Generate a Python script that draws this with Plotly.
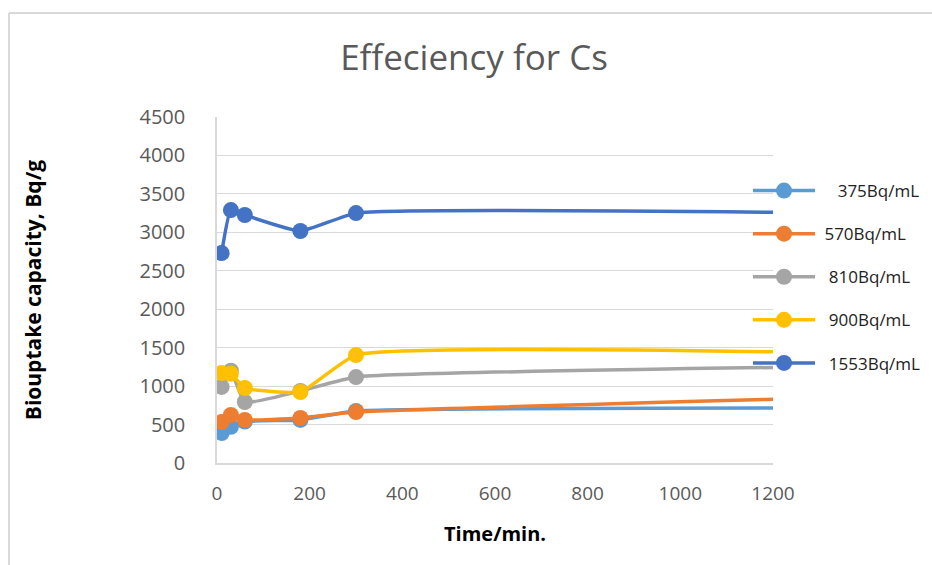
import plotly.graph_objects as go

time_min = [10, 30, 60, 180, 300, 1440]
series_names = ["375Bq/mL", "570Bq/mL", "810Bq/mL", "900Bq/mL", "1553Bq/mL"]
label_indent = [4, 1, 2, 2, 2]
s375 = [390, 470, 540, 560, 676, 716]
s570 = [533, 624, 559, 585, 663, 870]
s810 = [990, 1200, 793, 936, 1118, 1262]
s900 = [1170, 1160, 975, 923, 1404, 1422]
s1553 = [2730, 3290, 3225, 3017, 3250, 3245]
colors = ["#5B9BD5", "#ED7D31", "#A5A5A5", "#FFC000", "#4472C4"]
x_ticks = [0, 200, 400, 600, 800, 1000, 1200]
y_ticks = [0, 500, 1000, 1500, 2000, 2500, 3000, 3500, 4000, 4500]

fig = go.Figure()
for i, (name, vals) in enumerate(zip(series_names, [s375, s570, s810, s900, s1553])):
    fig.add_trace(go.Scatter(
        x=time_min, y=vals, name="\u00a0" * label_indent[i] + name, mode="lines+markers",
        line=dict(color=colors[i], width=3.5, shape="spline", smoothing=0.4),
        marker=dict(color=colors[i], size=16),
        legendgroup=f"g{i}", cliponaxis=True,
    ))

L, R, T, B = 217, 159, 117, 102
W, H = 932, 565
pw, ph = W - L - R, H - T - B

def px2x(px):
    return (px - L) / pw

def py2y(py):
    return (H - B - py) / ph

fig.update_layout(
    width=W, height=H,
    margin=dict(l=L, r=R, t=T, b=B, autoexpand=False),
    paper_bgcolor="white", plot_bgcolor="white",
    title=dict(text="Effeciency for Cs", x=474 / W, xanchor="center", xref="container",
               y=1 - 58 / H, yanchor="middle",
               font=dict(family="Open Sans", size=35, color="#595959")),
    font=dict(family="Open Sans", color="#595959"),
    xaxis=dict(range=[0, 1200], tickvals=x_ticks, showgrid=False, zeroline=False,
               showline=True, linecolor="#D9D9D9", linewidth=1.5,
               tickfont=dict(size=19, color="#595959"), ticks="",
               ticklabelstandoff=12,
               title=dict(text="<b>Time/min.</b>", standoff=22,
                          font=dict(family="Open Sans", size=20, color="black"))),
    yaxis=dict(range=[0, 4500], tickvals=y_ticks, showgrid=True, gridcolor="#D9D9D9",
               gridwidth=1.2, zeroline=False, showline=True, linecolor="#D9D9D9",
               linewidth=1.5, tickfont=dict(size=20, color="#595959"), ticks="",
               ticklabelstandoff=26,
               title=dict(text="<b>Biouptake capacity, Bq/g</b>", standoff=92,
                          font=dict(family="Open Sans", size=21, color="black"))),
    legend=dict(x=px2x(748), y=py2y(173), xanchor="left", yanchor="top",
                traceorder="grouped", tracegroupgap=18, itemwidth=62,
                bgcolor="rgba(0,0,0,0)",
                font=dict(family="Open Sans", size=17, color="#222222")),
    shapes=[
        dict(type="line", xref="paper", yref="paper",
             x0=px2x(9), x1=px2x(9), y0=py2y(13), y1=py2y(H + 5),
             line=dict(color="#D9D9D9", width=2)),
        dict(type="line", xref="paper", yref="paper",
             x0=px2x(9), x1=px2x(W + 5), y0=py2y(13), y1=py2y(13),
             line=dict(color="#D9D9D9", width=2)),
    ],
)

fig.write_html("out.html")
